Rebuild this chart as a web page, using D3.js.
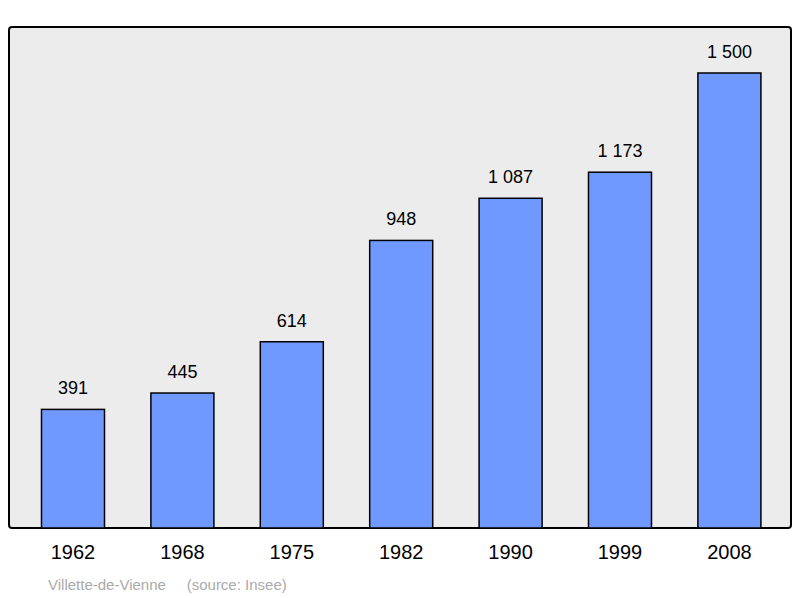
<!DOCTYPE html>
<html><head><meta charset="utf-8">
<script src="https://cdn.jsdelivr.net/npm/d3@7"></script>
<style>body{margin:0;background:#fff}</style></head>
<body><svg id="c" width="800" height="598"></svg>
<script>
const years = ["1962","1968","1975","1982","1990","1999","2008"];
const population = [391,445,614,948,1087,1173,1500];
const labels = ["391","445","614","948","1 087","1 173","1 500"];
const svg = d3.select("#c");
const font = "Liberation Sans, Arial, sans-serif";
svg.append("rect").attr("x",9).attr("y",27).attr("width",782).attr("height",501)
  .attr("rx",3).attr("fill","#ececec").attr("stroke","#000").attr("stroke-width",2);
const x = d3.scaleBand().domain(years).range([18.3,784.1]).paddingInner(0.424).paddingOuter(0.212);
const y = d3.scaleLinear().domain([0,1500]).range([528,73]);
const g = svg.append("g");
g.selectAll("rect").data(years).join("rect")
  .attr("x",d=>x(d)).attr("width",x.bandwidth())
  .attr("y",(d,i)=>y(population[i])).attr("height",(d,i)=>528-y(population[i]))
  .attr("fill","#7099ff").attr("stroke","#000").attr("stroke-width",1.5);
g.selectAll("text.v").data(years).join("text").attr("class","v")
  .attr("x",d=>x(d)+x.bandwidth()/2).attr("y",(d,i)=>y(population[i])-15)
  .attr("text-anchor","middle").attr("font-family",font).attr("font-size",18)
  .text((d,i)=>labels[i]);
const ax = svg.append("g").attr("transform","translate(0,528)")
  .call(d3.axisBottom(x).tickSize(0).tickPadding(17));
ax.select(".domain").remove();
ax.selectAll("text").attr("font-family",font).attr("font-size",20).attr("fill","#000");
svg.append("text").attr("x",48).attr("y",590).attr("font-family",font).attr("font-size",15)
  .attr("fill","#aaa").attr("xml:space","preserve").text("Villette-de-Vienne     (source: Insee)");
</script></body></html>
